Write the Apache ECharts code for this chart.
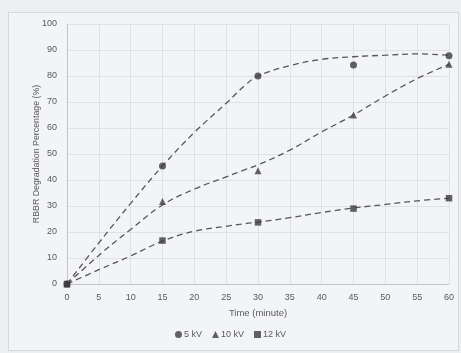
<!DOCTYPE html>
<html>
<head>
<meta charset="utf-8">
<script src="https://cdn.jsdelivr.net/npm/echarts@6/dist/echarts.min.js"></script>
<style>
  html, body { margin: 0; padding: 0; background: #eceef1; }
  #frame { position: absolute; left: 8px; top: 12px; width: 449px; height: 337px; border: 1px solid #d6d8db; background: #f3f4f7; }
  #chart { position: absolute; left: 0; top: 0; width: 461px; height: 353px; }
</style>
</head>
<body>
<div id="frame"></div>
<div id="chart"></div>
<script>
// Measured points
const times = [0, 15, 30, 45, 60];
const kv5 = [0, 45.4, 80, 84.2, 87.8];
const kv10 = [0, 31.7, 43.6, 65, 84.5];
const kv12 = [0, 16.7, 23.7, 29, 33];

// Trendlines
const trendX = [0, 5, 10, 15, 20, 25, 28, 30, 35, 40, 45, 50, 55, 60];
const trend5 = [0, 15.8, 31, 45.4, 58.3, 69.5, 76.5, 80, 84, 86.4, 87.4, 88, 88.5, 88];
const trend10 = [0, 11, 21, 30.4, 36.5, 41.2, 44, 45.8, 51.5, 58.5, 65, 72.3, 79, 84.5];
const trend12 = [0, 5.5, 10.8, 16.5, 20.3, 22.2, 23.2, 23.8, 25.5, 27.5, 29.2, 30.6, 32, 33];

const seriesNames = ['5 kV', '10 kV', '12 kV'];
const xTitle = 'Time (minute)';
const yTitle = 'RBBR Degradation Percentage (%)';

const pair = (xs, ys) => xs.map((x, i) => [x, ys[i]]);
const font = 'Liberation Sans';
const markColor = '#3c3c3c';
const trendStyle = { color: '#575757', width: 1.3, type: [6, 4] };

const chart = echarts.init(document.getElementById('chart'));
chart.setOption({
  animation: false,
  backgroundColor: 'transparent',
  grid: { left: 67, right: 12, top: 24, bottom: 69, containLabel: false },
  xAxis: {
    type: 'value', min: 0, max: 60, interval: 5,
    name: xTitle, nameLocation: 'middle', nameGap: 24,
    nameTextStyle: { color: '#5a5a5a', fontSize: 9.5, fontFamily: font },
    axisLine: { show: true, lineStyle: { color: '#c4c4c4' } },
    axisTick: { show: false },
    axisLabel: { color: '#5a5a5a', fontSize: 9, fontFamily: font, margin: 9 },
    splitLine: { show: true, lineStyle: { color: '#e0e1e4' } }
  },
  yAxis: {
    type: 'value', min: 0, max: 100, interval: 10,
    name: yTitle, nameLocation: 'middle', nameGap: 26, nameMoveOverlap: false,
    nameTextStyle: { color: '#5a5a5a', fontSize: 8.8, fontFamily: font },
    axisLine: { show: true, lineStyle: { color: '#c4c4c4' } },
    axisTick: { show: false },
    axisLabel: { color: '#5a5a5a', fontSize: 9, fontFamily: font, margin: 10 },
    splitLine: { show: true, lineStyle: { color: '#e0e1e4' } }
  },
  legend: {
    bottom: 9, left: 'center',
    itemWidth: 7, itemHeight: 7, itemGap: 10,
    textStyle: { color: '#5a5a5a', fontSize: 9, fontFamily: font, padding: [0, 0, 0, -3] },
    data: [
      { name: seriesNames[0], icon: 'circle' },
      { name: seriesNames[1], icon: 'triangle' },
      { name: seriesNames[2], icon: 'rect' }
    ]
  },
  series: [
    { type: 'line', name: 't5', data: pair(trendX, trend5), smooth: 0.4, showSymbol: false, lineStyle: trendStyle, z: 2 },
    { type: 'line', name: 't10', data: pair(trendX, trend10), smooth: 0.4, showSymbol: false, lineStyle: trendStyle, z: 2 },
    { type: 'line', name: 't12', data: pair(trendX, trend12), smooth: 0.4, showSymbol: false, lineStyle: trendStyle, z: 2 },
    { type: 'scatter', name: seriesNames[0], data: pair(times, kv5), symbol: 'circle', symbolSize: 7, itemStyle: { color: markColor }, z: 3 },
    { type: 'scatter', name: seriesNames[1], data: pair(times, kv10), symbol: 'triangle', symbolSize: 7, itemStyle: { color: markColor }, z: 3 },
    { type: 'scatter', name: seriesNames[2], data: pair(times, kv12), symbol: 'rect', symbolSize: 6.5, itemStyle: { color: markColor }, z: 4 }
  ]
});
</script>
</body>
</html>
